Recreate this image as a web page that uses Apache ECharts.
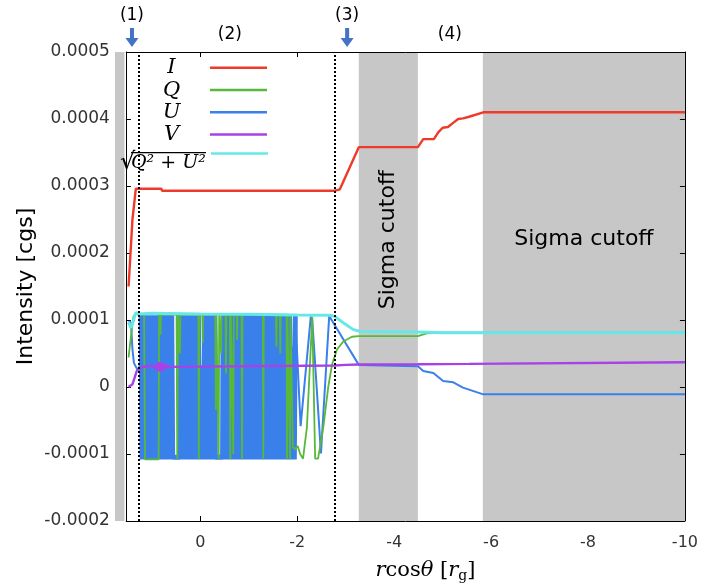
<!DOCTYPE html>
<html><head><meta charset="utf-8">
<script src="https://cdn.jsdelivr.net/npm/echarts@6/dist/echarts.min.js"></script>
<style>html,body{margin:0;padding:0;background:#fff}#c{width:701px;height:588px}</style>
</head><body><div id="c"></div>
<script>
// values are in units of 1e-4 cgs; x is r cos(theta) in r_g
const SCALE = 1e-4;
const xMin = -10, xMax = 1.76, xFrameLeft = 1.535, xStep = 2;
const yMin = -0.0002, yMax = 0.0005, yStep = 0.0001;

const iData = [[1.48,1.50],[1.40,2.50],[1.33,2.96],[0.80,2.96],[0.79,2.93],[-2.78,2.93],[-2.88,2.95],[-3.27,3.58],[-4.49,3.58],[-4.60,3.70],[-4.70,3.70],[-4.82,3.70],[-4.91,3.80],[-5.00,3.87],[-5.11,3.88],[-5.23,3.95],[-5.32,4.00],[-5.42,4.01],[-5.53,4.03],[-5.84,4.10],[-10,4.10]];

const qData = [[1.48,0.44],[1.43,0.76],[1.38,1.05],[1.33,1.10],[1.28,1.08],
[1.16,1.08],[1.15,-0.10],[1.14,-1.08],[0.86,-1.08],[0.85,1.08],
[0.83,1.08],[0.82,0.78],[0.81,1.08],
[0.49,1.08],[0.475,-1.08],[0.46,1.08],
[0.43,1.08],[0.42,0.50],[0.41,1.08],
[0.04,1.08],[0.03,-1.08],[0.02,1.08],
[-0.04,1.08],[-0.05,0.66],[-0.06,1.08],
[-0.31,1.08],[-0.32,-0.34],[-0.33,1.08],
[-0.37,1.08],[-0.38,-1.08],[-0.39,1.08],
[-0.42,1.08],[-0.43,0.50],[-0.44,1.08],
[-0.52,1.08],[-0.53,0.20],[-0.54,1.08],
[-0.61,1.08],[-0.62,-1.08],[-0.63,1.08],
[-0.67,1.08],[-0.68,-1.00],[-0.69,1.08],
[-0.75,1.08],[-0.76,0.70],[-0.77,1.08],
[-0.85,1.08],[-0.86,-1.08],[-0.87,1.08],
[-1.29,1.08],[-1.30,-1.08],[-1.31,1.08],
[-1.56,1.08],[-1.57,0.60],[-1.58,1.08],
[-1.64,1.08],[-1.65,0.50],[-1.66,1.08],
[-1.78,1.08],[-1.79,-1.08],[-1.80,1.08],
[-1.84,1.08],[-1.85,-1.08],[-1.86,1.08],
[-1.88,1.08],[-1.91,-0.90],[-1.96,-0.93],[-2.01,-0.88],[-2.06,-1.00],[-2.12,-1.07],[-2.20,-0.60],[-2.31,1.05],[-2.37,-1.07],[-2.43,-1.07],[-2.54,-0.59],[-2.64,0.00],[-2.72,0.34],[-2.82,0.56],[-2.95,0.68],[-3.13,0.75],[-3.27,0.76],[-4.49,0.76],[-4.67,0.80],[-4.94,0.81],[-10,0.81]];

const uHead = [[1.48,0.98],[1.43,0.96],[1.40,0.56],[1.37,0.36],[1.30,0.26],[1.25,0.31],[1.22,1.08]];
const uDense = [[1.22,1.08],[1.20,-1.08],[1.17,1.07],[1.14,-1.08],[1.12,0.05],[1.10,-1.08],[1.07,1.07],[1.03,-1.08],[0.99,1.07],[0.95,-1.08],[0.91,1.07],[0.87,-1.08],[0.83,1.07],[0.79,-1.08],[0.75,1.07],[0.71,-1.08],[0.67,1.07],[0.63,-1.08],[0.59,1.07],[0.58,1.07],[0.57,-1.05],[0.42,-1.05],[0.41,1.07],[0.38,-1.08],[0.34,1.07],[0.30,-1.08],[0.26,1.07],[0.22,-1.08],[0.18,1.07],[0.14,-1.08],[0.10,1.07],[0.06,-1.08],[0.04,1.07],[0.02,-1.08],[-0.03,0.30],[-0.06,-1.08],[-0.09,1.07],[-0.13,-1.08],[-0.17,1.07],[-0.21,-1.08],[-0.25,1.07],[-0.29,-1.08],[-0.30,1.07],[-0.31,-1.05],[-0.46,-1.05],[-0.47,1.07],[-0.50,-1.08],[-0.54,1.07],[-0.57,-1.08],[-0.59,1.07],[-0.62,0.30],[-0.65,1.07],[-0.68,-1.08],[-0.72,1.07],[-0.76,-1.08],[-0.80,1.07],[-0.84,-1.08],[-0.88,1.07],[-0.92,-1.08],[-0.96,1.07],[-1.00,-1.08],[-1.04,1.07],[-1.08,-1.08],[-1.12,1.07],[-1.16,-1.08],[-1.20,1.07],[-1.24,-1.08],[-1.28,1.07],[-1.32,-1.08],[-1.36,1.07],[-1.40,-1.08],[-1.44,1.07],[-1.48,-1.08],[-1.52,1.07],[-1.56,-1.08],[-1.60,1.07],[-1.64,-1.08],[-1.68,1.07],[-1.72,-1.08],[-1.76,1.07],[-1.80,-1.08],[-1.84,1.07],[-1.88,-1.08],[-1.91,0.60],[-1.94,-1.08],[-1.96,1.07]];
const uTail = [[-1.96,1.07],[-2.07,-0.585],[-2.28,1.05],[-2.31,1.00],[-2.49,-0.99],[-2.66,1.06],[-2.70,1.04],[-3.27,0.33],[-4.49,0.31],[-4.60,0.24],[-4.81,0.21],[-5.01,0.09],[-5.22,0.07],[-5.42,-0.01],[-5.84,-0.11],[-10,-0.11]];

const vData = [[1.48,0.00],[1.40,0.04],[1.31,0.24],[1.24,0.29],[1.10,0.31],[0.95,0.31],[0.93,0.31],[0.91,0.27],[0.89,0.35],[0.87,0.24],[0.85,0.37],[0.83,0.23],[0.81,0.37],[0.79,0.24],[0.77,0.35],[0.75,0.26],[0.73,0.34],[0.71,0.28],[0.69,0.33],[0.66,0.30],[0.62,0.32],[-2.78,0.32],[-3.00,0.33],[-3.27,0.335],[-4.49,0.34],[-5.54,0.345],[-5.56,0.365],[-10,0.37]];

const pData = [[1.48,0.97],[1.43,0.88],[1.38,0.99],[1.33,1.11],[1.26,1.09],[1.00,1.10],[0.00,1.09],[-1.00,1.085],[-2.00,1.075],[-2.68,1.07],[-2.78,1.05],[-2.95,0.96],[-3.15,0.86],[-3.29,0.83],[-4.49,0.82],[-5.00,0.81],[-10,0.81]];

const bands = [[1.76,1.565,''],[-3.27,-4.49,'Sigma cutoff'],[-5.83,-10,'Sigma cutoff']];
const dottedX = [1.277, -2.78];
const stageLabels = ['(1)','(2)','(3)','(4)'];
const stageX = [1.41, -0.61, -3.03, -5.15];
const stageRowY = [16, 35, 16, 35];
const arrowX = [1.41, -3.03];

const colors = {I:'#ee3a2a', Q:'#58b83a', U:'#3a80ea', V:'#a842e6', P:'#66e8e8'};
const conv = a => a.map(p => [p[0], p[1] * SCALE]);

const gridLeft = 115, gridRight = 15, gridTop = 52, gridBottom = 67;
const gridW = 701 - gridLeft - gridRight;
const leftAxisOffset = -(xMax - xFrameLeft) * gridW / (xMax - xMin);

const chart = echarts.init(document.getElementById('c'), null, {renderer: 'canvas'});
const lineSeries = (name, data, width) => ({
  type: 'line', name, data: conv(data), symbol: 'none', z: 2,
  lineStyle: {color: colors[name], width}, itemStyle: {color: colors[name]},
  animation: false, silent: true
});

const legendBase = {
  orient: 'vertical', padding: 0, align: 'right', icon: 'rect', itemWidth: 57, itemHeight: 2.5,
  selectedMode: false
};

const option = {
  animation: false,
  grid: {left: gridLeft, right: gridRight, top: gridTop, bottom: gridBottom},
  legend: [Object.assign({}, legendBase, {
    data: ['I','Q','U','V'], left: 138, top: 57.3, itemGap: 1.25,
    formatter: n => '{m|' + n + '}',
    textStyle: {rich: {
      m: {fontFamily: 'DejaVu Serif', fontStyle: 'italic', fontSize: 21, width: 67, align: 'center', lineHeight: 20, color: '#000'}
    }}
  }), Object.assign({}, legendBase, {
    data: ['P'], left: 120, top: 150.6,
    formatter: () => '{sp| }{bar| }\n{r|√}{o|Q² + U²}',
    textStyle: {
      padding: [16, 0, 0, 0],
      rich: {
        sp: {width: 11, height: 2, lineHeight: 2, fontSize: 2},
        bar: {width: 75, height: 1.4, lineHeight: 2, fontSize: 2, backgroundColor: '#000'},
        r: {width: 11, fontFamily: 'DejaVu Serif', fontSize: 24, lineHeight: 18, align: 'left', color: '#000'},
        o: {width: 75, fontFamily: 'DejaVu Serif', fontStyle: 'italic', fontSize: 19, lineHeight: 18, align: 'left', color: '#000'}
      }
    }
  })],
  xAxis: [{
    type: 'value', min: xMin, max: xMax, interval: xStep, inverse: true, position: 'bottom',
    axisLine: {show: false, onZero: false}, splitLine: {show: false},
    axisTick: {inside: true, length: 5, lineStyle: {color: '#000'}},
    axisLabel: {margin: 14, fontFamily: 'DejaVu Sans', fontSize: 16, color: '#333',
      formatter: v => (Math.abs(v - Math.round(v)) < 1e-6 && Math.round(v) % 2 === 0) ? String(Math.round(v)) : ''},
    name: '{i|r}{n|cos}{i|θ} {n|[}{i|r}{s|g}{n|]}', nameLocation: 'middle', nameGap: 38,
    nameTextStyle: {fontFamily: 'DejaVu Serif', fontSize: 21, color: '#000', padding: [0,0,0,51],
      rich: {
        i: {fontFamily: 'DejaVu Serif', fontStyle: 'italic', fontSize: 21, color: '#000'},
        n: {fontFamily: 'DejaVu Serif', fontSize: 21, color: '#000'},
        s: {fontFamily: 'DejaVu Serif', fontSize: 14, color: '#000', padding: [10,0,0,0]}
      }}
  }, {
    type: 'value', min: xMin, max: xMax, interval: xStep, inverse: true, position: 'top',
    axisLine: {show: false, onZero: false}, splitLine: {show: false}, axisLabel: {show: false},
    axisTick: {inside: true, length: 5, lineStyle: {color: '#000'}}
  }],
  yAxis: [{
    type: 'value', min: yMin, max: yMax, interval: yStep, position: 'left', offset: leftAxisOffset,
    axisLine: {show: true, onZero: false, lineStyle: {color: '#000'}}, splitLine: {show: false},
    axisTick: {show: true, inside: true, length: 5, lineStyle: {color: '#000'}},
    axisLabel: {margin: 16, fontFamily: 'DejaVu Sans', fontSize: 17, color: '#333'},
    name: 'Intensity [cgs]', nameLocation: 'middle', nameGap: 89, nameMoveOverlap: false,
    nameTextStyle: {fontFamily: 'DejaVu Sans', fontSize: 22, color: '#000'}
  }, {
    type: 'value', min: yMin, max: yMax, interval: yStep, position: 'right', z: 3,
    axisLine: {show: true, onZero: false, lineStyle: {color: '#000'}}, splitLine: {show: false},
    axisTick: {show: true, inside: true, length: 5, lineStyle: {color: '#000'}},
    axisLabel: {show: false}
  }],
  series: [
    {
      type: 'line', name: 'bands', data: [], silent: true, z: 1,
      markArea: {
        silent: true,
        itemStyle: {color: '#c7c7c7'},
        label: {show: true, color: '#000', fontFamily: 'DejaVu Sans', fontSize: 22,
          position: ['50%','40%'], align: 'center', verticalAlign: 'middle'},
        data: bands.map((b, k) => [{
          name: b[2], xAxis: b[0],
          label: {show: b[2] !== '', rotate: k === 1 ? 90 : 0}
        }, {xAxis: b[1]}])
      }
    },
    lineSeries('U', uHead, 2),
    lineSeries('U', uDense, 5),
    lineSeries('U', uTail, 2),
    lineSeries('Q', qData, 1.8),
    lineSeries('V', vData, 2.4),
    lineSeries('P', pData, 3),
    lineSeries('I', iData, 2.4),
    {
      type: 'line', name: 'frame', data: [], silent: true, z: 6,
      markLine: {
        silent: true, symbol: ['none','none'], label: {show: false},
        lineStyle: {color: '#000', width: 1, type: 'solid'},
        data: [
          [{coord: [xFrameLeft, yMin]}, {coord: [xMin, yMin]}],
          [{coord: [xFrameLeft, yMax]}, {coord: [xMin, yMax]}]
        ].concat(dottedX.map(x => ({xAxis: x, lineStyle: {color: '#000', width: 2, type: [2, 2]}})))
      }
    }
  ]
};
chart.setOption(option);

const gx = v => chart.convertToPixel({xAxisIndex: 0}, v);
const graphics = [];
stageLabels.forEach((t, k) => graphics.push({
  type: 'text', x: gx(stageX[k]), y: stageRowY[k],
  style: {text: t, fontFamily: 'DejaVu Sans', fontSize: 17, fill: '#000', align: 'center', verticalAlign: 'middle'}
}));
arrowX.forEach(v => {
  const cx = gx(v);
  graphics.push({
    type: 'polygon',
    shape: {points: [[cx-2,28],[cx+2,28],[cx+2,38],[cx+6.5,38],[cx,47],[cx-6.5,38],[cx-2,38]]},
    style: {fill: '#4472c4'}
  });
});
chart.setOption({graphic: graphics});
</script></body></html>
